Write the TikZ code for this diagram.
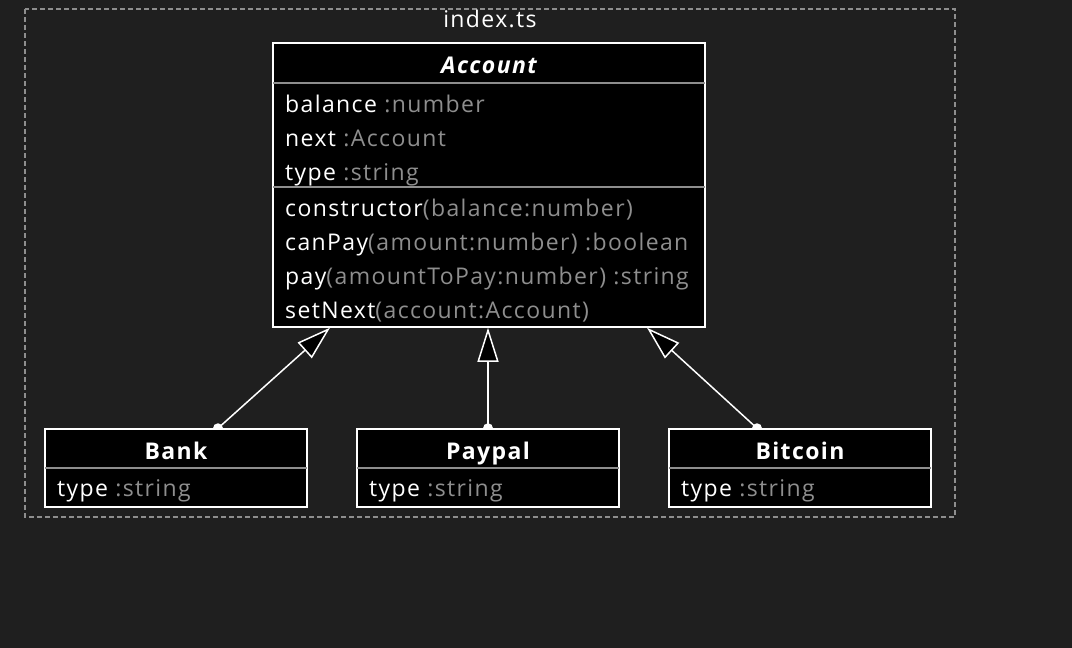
\documentclass[tikz,border=0pt]{standalone}
\usepackage{fontspec}
\setmainfont{Open Sans}[LetterSpace=6]
\usetikzlibrary{arrows.meta,positioning}
\definecolor{bg}{HTML}{1F1F1F}
\definecolor{dim}{HTML}{8E8E8E}
\pgfdeclarelayer{background}
\pgfsetlayers{background,main}

\begin{document}
\begin{tikzpicture}[x=1pt, y=-1pt,
    cls/.style={rectangle, draw=white, fill=black, line width=1.5pt, inner sep=0pt},
    title/.style={anchor=base, inner sep=0pt, text=white, font=\fontsize{23}{26}\selectfont\bfseries},
    member/.style={anchor=base west, inner sep=0pt, text=white, font=\fontsize{23}{26}\selectfont},
    sep/.style={draw=dim, line width=1.5pt},
    inherit/.style={draw=white, line width=1.5pt, -{Triangle[length=34pt, width=21pt, fill=black]}}
]
    \useasboundingbox (0,0) rectangle (1072,648);

    % Package frame
    \draw[dim, dash pattern=on 5pt off 3pt, line width=1.2pt] (25,9) rectangle (955,517);
    \node[member, anchor=base] (pkg) at (490,27) {index.ts};

    % Abstract class
    \node[cls, minimum width=432pt, minimum height=284pt] (acc) at (489,185) {};
    \node[title] (accname) at (489,73) {\itshape Account};
    \draw[sep] (273,83) -- (705,83);
    \node[member] (a1) at (285,112) {balance \textcolor{dim}{:number}};
    \node[member] (a2) at (285,146) {next \textcolor{dim}{:Account}};
    \node[member] (a3) at (285,180) {type \textcolor{dim}{:string}};
    \draw[sep] (273,187) -- (705,187);
    \node[member] (m1) at (285,216) {constructor\textcolor{dim}{(balance:number)}};
    \node[member] (m2) at (285,250) {canPay\textcolor{dim}{(amount:number) :boolean}};
    \node[member] (m3) at (285,284) {pay\textcolor{dim}{(amountToPay:number) :string}};
    \node[member] (m4) at (285,318) {setNext\textcolor{dim}{(account:Account)}};

    % Subclasses
    \node[cls, minimum width=262pt, minimum height=78pt] (bank) at (176,468) {};
    \node[cls, minimum width=262pt, minimum height=78pt] (paypal) at (488,468) {};
    \node[cls, minimum width=262pt, minimum height=78pt] (bitcoin) at (800,468) {};
    \node[title] (bankname) at (176,459) {Bank};
    \node[title] (paypalname) at (488,459) {Paypal};
    \node[title] (bitcoinname) at (800,459) {Bitcoin};
    \draw[sep] (45,468) -- (307,468);
    \draw[sep] (357,468) -- (619,468);
    \draw[sep] (669,468) -- (931,468);
    \node[member] (b1) at (57,496) {type \textcolor{dim}{:string}};
    \node[member] (p1) at (369,496) {type \textcolor{dim}{:string}};
    \node[member] (c1) at (681,496) {type \textcolor{dim}{:string}};

    % Generalisations, behind the boxes
    \begin{pgfonlayer}{background}
    \fill[bg] (0,0) rectangle (1072,648);
    \draw[inherit] ([xshift=42pt]bank.north) -- ([xshift=-159pt]acc.south);
    \draw[inherit] (paypal.north) -- (paypal.north |- acc.south);
    \draw[inherit] ([xshift=-43pt]bitcoin.north) -- ([xshift=158pt]acc.south);
    \fill[white] ([xshift=42pt]bank.north) circle (5pt);
    \fill[white] (paypal.north) circle (5pt);
    \fill[white] ([xshift=-43pt]bitcoin.north) circle (5pt);
    \end{pgfonlayer}
\end{tikzpicture}
\end{document}
